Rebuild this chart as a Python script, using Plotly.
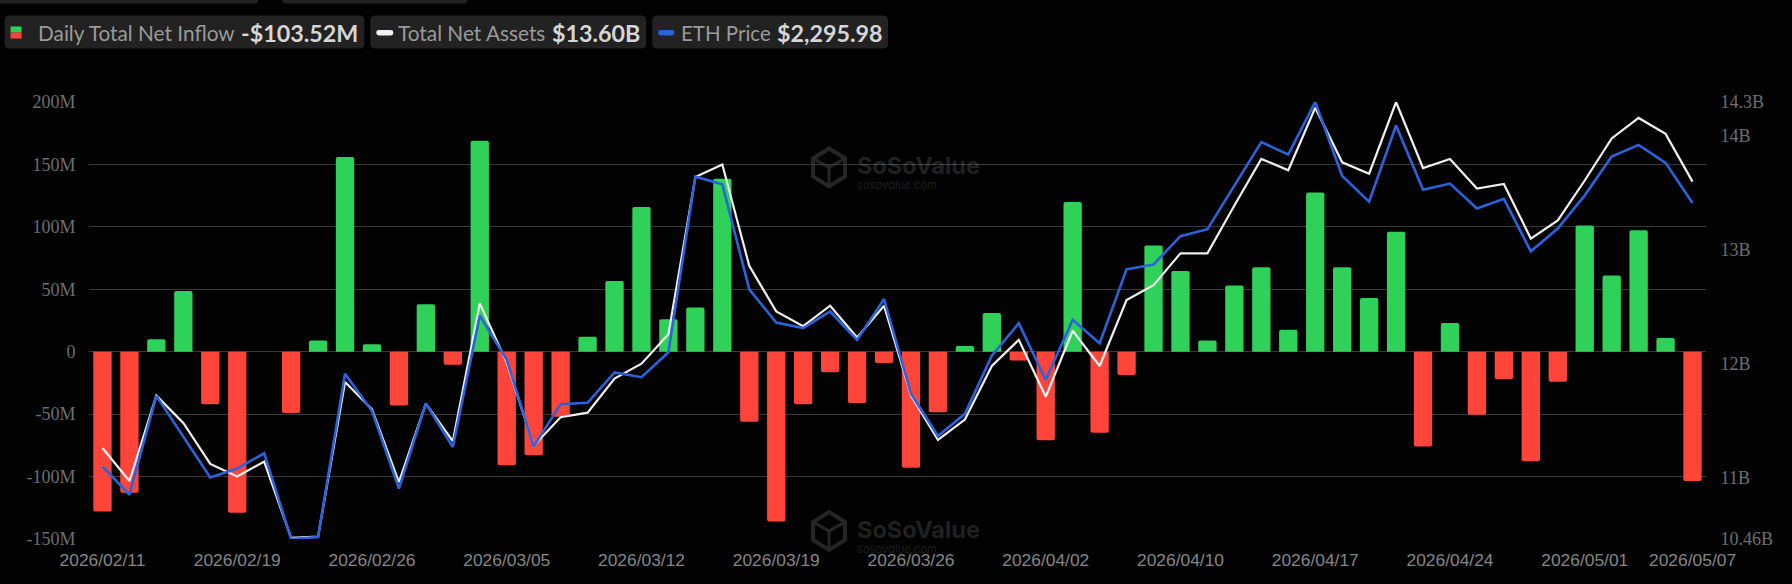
import plotly.graph_objects as go

# trading days on the axis
dates = [
    "2026/02/11", "2026/02/12", "2026/02/13", "2026/02/17", "2026/02/18", "2026/02/19",
    "2026/02/20", "2026/02/23", "2026/02/24", "2026/02/25", "2026/02/26", "2026/02/27",
    "2026/03/02", "2026/03/03", "2026/03/04", "2026/03/05", "2026/03/06", "2026/03/09",
    "2026/03/10", "2026/03/11", "2026/03/12", "2026/03/13", "2026/03/16", "2026/03/17",
    "2026/03/18", "2026/03/19", "2026/03/20", "2026/03/23", "2026/03/24", "2026/03/25",
    "2026/03/26", "2026/03/27", "2026/03/30", "2026/03/31", "2026/04/01", "2026/04/02",
    "2026/04/06", "2026/04/07", "2026/04/08", "2026/04/09", "2026/04/10", "2026/04/13",
    "2026/04/14", "2026/04/15", "2026/04/16", "2026/04/17", "2026/04/20", "2026/04/21",
    "2026/04/22", "2026/04/23", "2026/04/24", "2026/04/27", "2026/04/28", "2026/04/29",
    "2026/04/30", "2026/05/01", "2026/05/04", "2026/05/05", "2026/05/06", "2026/05/07",
]
date_ticks = [
    "2026/02/11", "2026/02/19", "2026/02/26", "2026/03/05", "2026/03/12", "2026/03/19", "2026/03/26",
    "2026/04/02", "2026/04/10", "2026/04/17", "2026/04/24", "2026/05/01", "2026/05/07",
]

# daily net inflow, $M
inflow = [
    -128, -113, 10, 48.7, -42, -129, 0, -49, 9, 156,
    6, -43, 38, -10.5, 169, -91, -83, -52, 12, 56.7,
    116, 26, 35.5, 138.5, -56, -136, -42, -16.5, -41, -9,
    -93, -48.5, 4.5, 31, -7, -71, 120, -65, -18.7, 85,
    64.7, 9, 53, 67.6, 17.6, 127.5, 67.6, 43, 96, -76,
    23, -50.5, -22, -87.7, -24, 101, 61, 97.3, 11, -103.52,
]
# total net assets, $B
assets = [
    11.26, 10.97, 11.72, 11.48, 11.12, 11.01, 11.14, 10.47, 10.48, 11.84,
    11.60, 10.96, 11.65, 11.32, 12.53, 12.01, 11.28, 11.53, 11.57, 11.87,
    12.00, 12.26, 13.64, 13.75, 12.86, 12.46, 12.33, 12.51, 12.23, 12.51,
    11.72, 11.33, 11.51, 11.98, 12.21, 11.71, 12.29, 11.98, 12.56, 12.69,
    12.97, 12.97, 13.39, 13.80, 13.70, 14.25, 13.77, 13.67, 14.30, 13.72,
    13.80, 13.54, 13.58, 13.10, 13.26, 13.61, 13.98, 14.16, 14.02, 13.60,
]
# ETH price, $
eth = [
    1915, 1874, 2017, 1958, 1899, 1912, 1934, 1810, 1813, 2049,
    1995, 1883, 2006, 1943, 2133, 2069, 1944, 2005, 2007, 2051,
    2044, 2080, 2334, 2323, 2171, 2123, 2115, 2139, 2098, 2157,
    2020, 1959, 1991, 2075, 2122, 2040, 2127, 2093, 2200, 2207,
    2248, 2258, 2320, 2384, 2366, 2442, 2335, 2298, 2408, 2315,
    2324, 2288, 2302, 2226, 2259, 2307, 2363, 2380, 2354, 2295.98,
]

left_ticks = [-150, -100, -50, 0, 50, 100, 150, 200]
left_labels = ["-150M", "-100M", "-50M", "0", "50M", "100M", "150M", "200M"]
right_ticks = [10.46, 11, 12, 13, 14, 14.3]
right_labels = ["10.46B", "11B", "12B", "13B", "14B", "14.3B"]

W, H = 1792, 584
L, R, T, B = 88.5, 1706.5, 101.5, 539

GREEN = "#30d158"
RED = "#ff453a"
GRID = "#383838"
CHIP = "#222222"


# pixel position on the page -> paper coordinates
def px(x):
    return (x - L) / (R - L)


def py(y):
    return (B - y) / (B - T)


def box(x0, y0, x1, y1, color, r=0):
    path = (
        f"M {px(x0 + r)} {py(y0)} L {px(x1 - r)} {py(y0)} Q {px(x1)} {py(y0)} {px(x1)} {py(y0 + r)} "
        f"L {px(x1)} {py(y1 - r)} Q {px(x1)} {py(y1)} {px(x1 - r)} {py(y1)} "
        f"L {px(x0 + r)} {py(y1)} Q {px(x0)} {py(y1)} {px(x0)} {py(y1 - r)} "
        f"L {px(x0)} {py(y0 + r)} Q {px(x0)} {py(y0)} {px(x0 + r)} {py(y0)} Z"
    )
    return dict(type="path", path=path, xref="paper", yref="paper", fillcolor=color,
                line_width=0, layer="below")


def text(x, y, s, size, color, family="Lato", anchor="left"):
    return dict(text=s, x=px(x), y=py(y), xref="paper", yref="paper", showarrow=False,
                xanchor=anchor, yanchor="middle", align="left",
                font=dict(size=size, color=color, family=family))


def watermark(cy):
    # hexagon logo, centre x 829
    pts = [(829, cy - 19), (845, cy - 9), (845, cy + 9), (829, cy + 19), (813, cy + 9), (813, cy - 9)]
    hex_path = "M " + " L ".join(f"{px(a)} {py(b)}" for a, b in pts) + " Z"
    inner = (f"M {px(813)} {py(cy - 9)} L {px(829)} {py(cy)} L {px(845)} {py(cy - 9)} "
             f"M {px(829)} {py(cy)} L {px(829)} {py(cy + 19)}")
    shapes = [
        dict(type="path", path=hex_path, xref="paper", yref="paper",
             line=dict(color="#262626", width=4), layer="below"),
        dict(type="path", path=inner, xref="paper", yref="paper",
             line=dict(color="#262626", width=3), layer="below"),
    ]
    # one text with two lines, the line gap comes from the outer font size
    label = ('<span style="font-size:23.5px"><b>SoSoValue</b></span><br>'
             '<i>sosovalue.com</i>')
    notes = [text(855, cy + 4, label, 11.2, "rgba(255,255,255,0.12)", "Inter")]
    return shapes, notes


fig = go.Figure()
fig.add_trace(go.Bar(
    x=dates, y=inflow, name="Daily Total Net Inflow", width=0.68,
    marker=dict(color=[GREEN if v >= 0 else RED for v in inflow], line_width=0),
))
fig.add_trace(go.Scatter(
    x=dates, y=assets, name="Total Net Assets", yaxis="y2", mode="lines",
    line=dict(color="#f0f0f0", width=2.2, shape="linear"),
))
fig.add_trace(go.Scatter(
    x=dates, y=eth, name="ETH Price", yaxis="y3", mode="lines",
    line=dict(color="#2b63dc", width=2.6, shape="linear"),
))

shapes = [
    # cut off chips at the very top
    box(-4, -10, 258, 3, CHIP, 4),
    box(282, -10, 467, 3, CHIP, 4),
    # legend chips
    box(4, 15, 364, 48, CHIP, 5),
    box(370, 15, 646, 48, CHIP, 5),
    box(652, 15, 888, 48, CHIP, 5),
    box(10, 26, 21, 32, GREEN),
    box(10, 32, 21, 38, RED),
    box(376, 29.5, 393, 35, "#f2f2f2", 2.5),
    box(658, 29.5, 674, 35, "#2b63dc", 2.5),
]
notes = [
    text(35.5, 32, "Daily Total Net Inflow", 20.8, "#9a9a9a"),
    text(238.5, 32, "<b>-$103.52M</b>", 23.3, "#d6d6d6"),
    text(395.5, 32, "Total Net Assets", 20.8, "#9a9a9a"),
    text(549.5, 32, "<b>$13.60B</b>", 23.3, "#d6d6d6"),
    text(678.5, 32, "ETH Price", 20.5, "#9a9a9a"),
    text(774.5, 32, "<b>$2,295.98</b>", 23.3, "#d6d6d6"),
]
for cy in (167, 531):
    s, n = watermark(cy)
    shapes += s
    notes += n

serif = dict(family="Liberation Serif", size=18, color="#6e6e6e")
fig.update_layout(
    width=W, height=H,
    margin=dict(l=L, r=W - R, t=T, b=H - B, pad=0),
    paper_bgcolor="#020202", plot_bgcolor="#020202",
    showlegend=False, barcornerradius=2,
    shapes=shapes, annotations=notes,
    xaxis=dict(
        type="category", categoryorder="array", categoryarray=dates,
        range=[-0.5, len(dates) - 0.5], tickmode="array", tickvals=date_ticks,
        showgrid=False, zeroline=False, showline=False, ticks="outside", ticklen=5,
        tickcolor="rgba(0,0,0,0)", tickangle=0,
        tickfont=dict(family="Liberation Sans", size=17.4, color="#858585"),
    ),
    yaxis=dict(
        range=[-150, 200], tickmode="array", tickvals=left_ticks, ticktext=left_labels,
        gridcolor=GRID, gridwidth=1, zeroline=True, zerolinecolor=GRID, zerolinewidth=1,
        ticks="outside", ticklen=9, tickcolor="rgba(0,0,0,0)", tickfont=serif,
    ),
    yaxis2=dict(
        range=[10.46, 14.3], overlaying="y", side="right", tickmode="array",
        tickvals=right_ticks, ticktext=right_labels, showgrid=False, zeroline=False,
        ticks="outside", ticklen=10, tickcolor="rgba(0,0,0,0)", tickfont=serif,
    ),
    yaxis3=dict(range=[1810, 2442], overlaying="y", visible=False),
)

fig.write_html("out.html", config=dict(displayModeBar=False),
               post_script="document.body.style.margin='0';")
